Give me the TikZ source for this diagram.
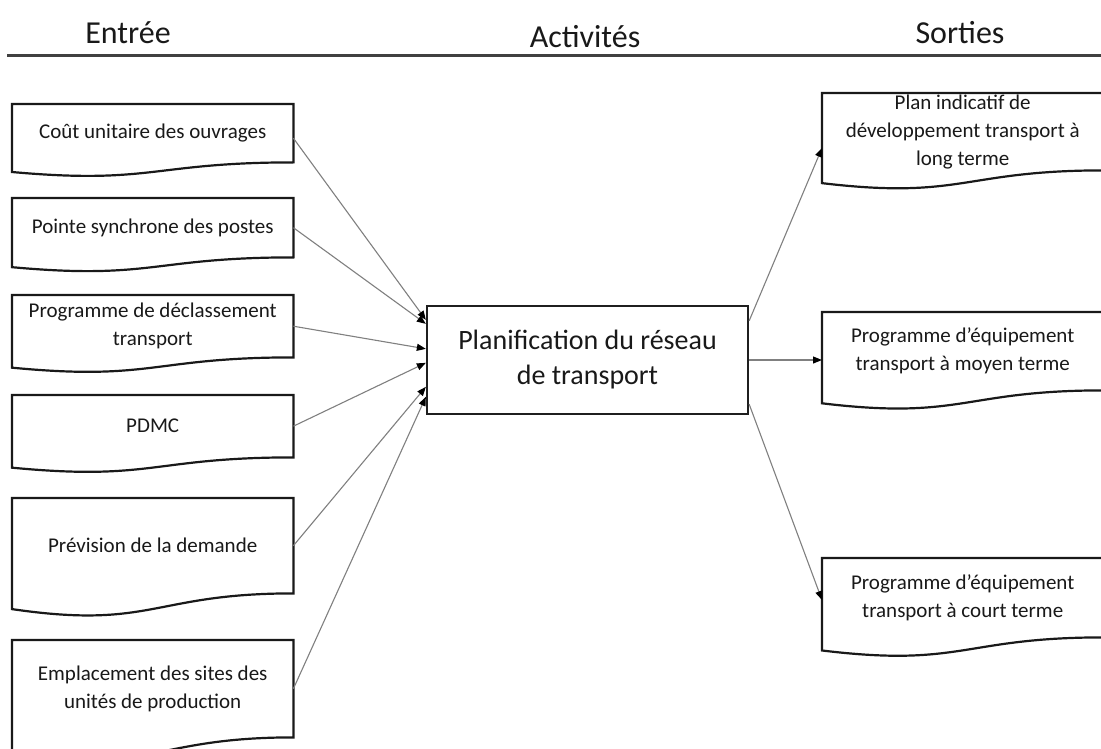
\documentclass[tikz,border=0pt]{standalone}
\usepackage{fontspec}
\setmainfont{Carlito}
\usetikzlibrary{arrows.meta,calc}

\tikzset{
  doc/.style={rectangle, inner sep=0pt, minimum width=281pt, anchor=north west,
    align=center, font=\fontsize{21}{28}\selectfont, text=black!90},
  docline/.style={draw=black!90, line width=2.2pt, line join=miter},
  mainbox/.style={rectangle, draw=black!88, line width=2.3pt, minimum width=321pt,
    minimum height=108pt, align=center, font=\fontsize{28}{35}\selectfont, text=black!90},
  head/.style={font=\fontsize{32}{38}\selectfont, text=black!90, inner sep=0pt},
  rule/.style={draw=black!75, line width=3pt},
  conn/.style={draw=black!50, line width=1.1pt,
    -{Triangle[length=9pt,width=7pt,color=black]}}
}

% document shape: straight top and sides, wavy lower edge hanging below the text area
\newcommand\docoutline[1]{%
  \draw[docline] let \p1=(#1.north west), \p2=(#1.south east) in
    (\p1) -- (\x2,\y1) -- (\p2)
    .. controls ({(\x1+\x2)/2},\y2) and ({(\x1+\x2)/2},{\y1+1.381*(\y2-\y1)}) ..
    (\x1,{\y1+1.1646*(\y2-\y1)}) -- cycle;}

\begin{document}
\begin{tikzpicture}[x=1pt,y=-1pt]
\path[use as bounding box] (0,0) rectangle (1101,749);
\fill[white] (0,0) rectangle (1101,749);
\clip (0,0) rectangle (1101,749);

% column headings
\node[head] (hin)  at (128,33) {Entrée};
\node[head] (hact) at (585,37) {Activités};
\node[head] (hout) at (960,33) {Sorties};
\draw[rule] (7,56) -- (1101,56);

% inputs
\node[doc, minimum height=58pt] (e1) at (12,104) {Coût unitaire des ouvrages};
\node[doc, minimum height=59pt] (e2) at (12,198) {Pointe synchrone des postes};
\node[doc, minimum height=62pt] (e3) at (12,295) {Programme de déclassement\\transport};
\node[doc, minimum height=62pt] (e4) at (12,395) {PDMC};
\node[doc, minimum height=95pt] (e5) at (12,498) {Prévision de la demande};
\node[doc, minimum height=97pt] (e6) at (12,640) {Emplacement des sites des\\unités de production};

% activity
\node[mainbox] (c) at (587.5,360) {Planification du réseau\\de transport};

% outputs
\node[doc, minimum height=77pt] (s1) at (822,93) {Plan indicatif de\\développement transport à\\long terme};
\node[doc, minimum height=78pt] (s2) at (822,312) {Programme d’équipement\\transport à moyen terme};
\node[doc, minimum height=79pt] (s3) at (822,558) {Programme d’équipement\\transport à court terme};

\foreach \dn in {e1,e2,e3,e4,e5,e6,s1,s2,s3} {\docoutline{\dn}}

% flows into the activity
\draw[conn] ([yshift=-5pt]e1.east) -- ([yshift=-15pt]c.north west);
\draw[conn] (e2.east) -- ([yshift=-19pt]c.north west);
\draw[conn] (e3.east) -- ([yshift=-44pt]c.north west);
\draw[conn] (e4.east) -- ([yshift=-58pt]c.north west);
\draw[conn] (e5.east) -- ([yshift=-82pt]c.north west);
\draw[conn] (e6.east) -- ([yshift=-92pt]c.north west);

% flows out of the activity
\draw[conn] ([yshift=-16pt]c.north east) -- ([yshift=-55pt]s1.north west);
\draw[conn] (c.east) -- (c.east -| s2.west);
\draw[conn] ([yshift=11pt]c.south east) -- ([yshift=-42pt]s3.north west);
\end{tikzpicture}
\end{document}
